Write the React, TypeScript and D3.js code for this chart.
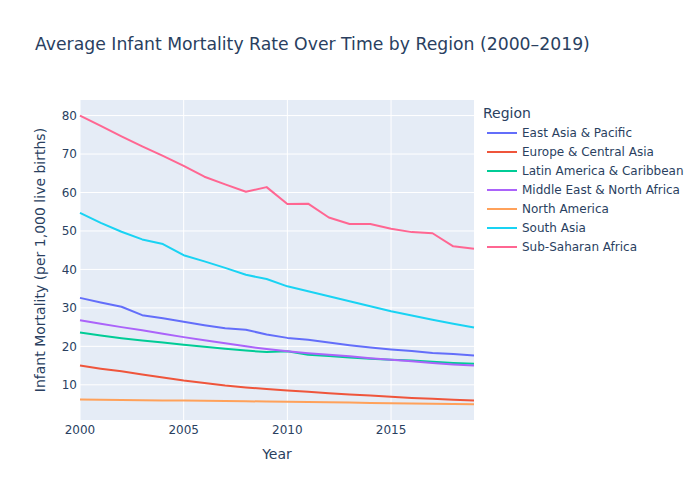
import * as d3 from "d3";

const years = d3.range(2000, 2020);

const regions = [
  "East Asia & Pacific",
  "Europe & Central Asia",
  "Latin America & Caribbean",
  "Middle East & North Africa",
  "North America",
  "South Asia",
  "Sub-Saharan Africa",
];

const colors = ["#636efa", "#EF553B", "#00cc96", "#ab63fa", "#FFA15A", "#19d3f3", "#FF6692"];

const eastAsia = [32.6, 31.4, 30.3, 28.1, 27.3, 26.4, 25.5, 24.7, 24.3, 23.1, 22.2, 21.7, 21.0, 20.3, 19.7, 19.2, 18.8, 18.3, 18.0, 17.6];
const europe = [15.0, 14.2, 13.5, 12.7, 11.9, 11.1, 10.5, 9.8, 9.3, 8.9, 8.5, 8.2, 7.8, 7.5, 7.2, 6.9, 6.6, 6.4, 6.1, 5.9];
const latinAmerica = [23.6, 22.8, 22.1, 21.5, 21.0, 20.4, 19.9, 19.4, 18.9, 18.5, 18.7, 17.8, 17.5, 17.1, 16.8, 16.5, 16.3, 16.0, 15.7, 15.5];
const middleEast = [26.8, 25.9, 25.0, 24.2, 23.3, 22.4, 21.6, 20.8, 20.0, 19.3, 18.7, 18.2, 17.8, 17.4, 16.9, 16.5, 16.1, 15.7, 15.3, 15.0];
const northAmerica = [6.2, 6.1, 6.05, 6.0, 5.95, 5.9, 5.85, 5.8, 5.72, 5.66, 5.6, 5.52, 5.45, 5.38, 5.3, 5.22, 5.15, 5.07, 5.0, 4.93];
const southAsia = [54.7, 52.1, 49.8, 47.8, 46.6, 43.7, 42.1, 40.4, 38.6, 37.5, 35.6, 34.3, 33.0, 31.7, 30.4, 29.1, 28.0, 26.9, 25.9, 24.9];
const subSaharan = [80.0, 77.3, 74.6, 72.0, 69.5, 66.9, 64.1, 62.1, 60.2, 61.4, 57.0, 57.1, 53.5, 51.8, 51.8, 50.6, 49.7, 49.4, 46.0, 45.4];

const series = [eastAsia, europe, latinAmerica, middleEast, northAmerica, southAsia, subSaharan];

const xTicks = [2000, 2005, 2010, 2015];
const yTicks = [10, 20, 30, 40, 50, 60, 70, 80];

const width = 700;
const height = 500;
const margin = { top: 100, right: 226, bottom: 80, left: 80 };
const font = "'DejaVu Sans', Verdana, sans-serif";
const textColor = "#2a3f5f";

export default function App() {
  const x = d3
    .scaleLinear()
    .domain([2000, 2019])
    .range([margin.left, width - margin.right]);

  const y = d3
    .scaleLinear()
    .domain([0.85, 84.05])
    .range([height - margin.bottom, margin.top]);

  const line = d3
    .line<number>()
    .x((_, i) => x(years[i]))
    .y((d) => y(d));

  const plotW = width - margin.left - margin.right;
  const plotH = height - margin.top - margin.bottom;

  return (
    <svg width={width} height={height} style={{ position: "absolute", left: 0, top: 0, fontFamily: font }}>
      <rect width={width} height={height} fill="white" />
      <rect x={margin.left} y={margin.top} width={plotW} height={plotH} fill="#E5ECF6" />

      {/* grid */}
      {yTicks.map((t) => (
        <line key={"gy" + t} x1={margin.left} x2={margin.left + plotW} y1={y(t)} y2={y(t)} stroke="white" strokeWidth={1} />
      ))}
      {xTicks.map((t) => (
        <line key={"gx" + t} x1={x(t)} x2={x(t)} y1={margin.top} y2={margin.top + plotH} stroke="white" strokeWidth={1} />
      ))}

      {/* lines */}
      <g>
        {series.map((s, i) => (
          <path key={regions[i]} d={line(s) ?? ""} fill="none" stroke={colors[i]} strokeWidth={2} strokeLinejoin="round" />
        ))}
      </g>

      {/* tick labels */}
      {yTicks.map((t) => (
        <text key={"ty" + t} x={margin.left - 3} y={y(t)} dy="0.36em" textAnchor="end" fontSize={12} fill={textColor}>
          {t}
        </text>
      ))}
      {xTicks.map((t) => (
        <text key={"tx" + t} x={x(t)} y={margin.top + plotH + 14} textAnchor="middle" fontSize={12} fill={textColor}>
          {t}
        </text>
      ))}

      {/* axis titles */}
      <text x={margin.left + plotW / 2} y={459} textAnchor="middle" fontSize={14} fill={textColor}>
        Year
      </text>
      <text
        transform={`translate(45,${margin.top + plotH / 2}) rotate(-90)`}
        textAnchor="middle"
        fontSize={14}
        fill={textColor}
      >
        Infant Mortality (per 1,000 live births)
      </text>

      {/* title */}
      <text x={35} y={50} fontSize={17.25} fill={textColor}>
        Average Infant Mortality Rate Over Time by Region (2000–2019)
      </text>

      {/* legend */}
      <text x={483} y={118} fontSize={14} fill={textColor}>
        Region
      </text>
      {regions.map((r, i) => (
        <g key={"lg" + r} transform={`translate(487,${133 + i * 19})`}>
          <line x1={0} x2={30} y1={0} y2={0} stroke={colors[i]} strokeWidth={2} />
          <text x={35} y={0} dy="0.36em" fontSize={12} fill={textColor}>
            {r}
          </text>
        </g>
      ))}
    </svg>
  );
}
